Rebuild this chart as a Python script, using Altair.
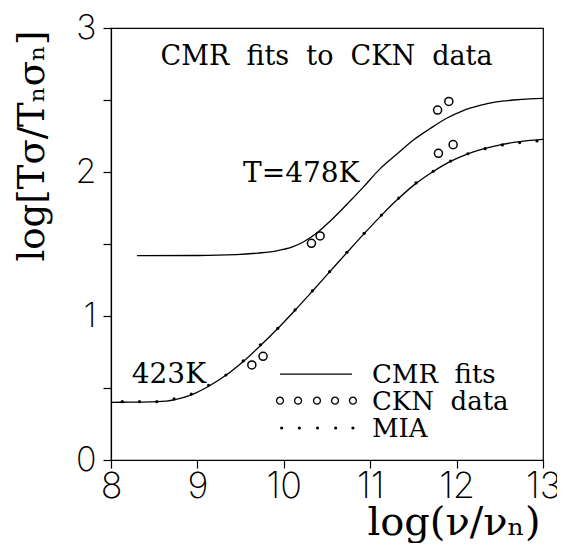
import altair as alt
import pandas as pd

# ---- data ----
# MIA points (T = 423K)
mia_x = [8.13, 8.33, 8.53, 8.73, 8.93, 9.13, 9.33, 9.53, 9.73, 9.93, 10.13, 10.33,
         10.53, 10.73, 10.93, 11.13, 11.33, 11.53, 11.73, 11.93, 12.13, 12.33, 12.53,
         12.73, 12.93]
mia_y = [0.405, 0.405, 0.405, 0.424, 0.458, 0.519, 0.590, 0.688, 0.800, 0.914, 1.042,
         1.174, 1.308, 1.442, 1.574, 1.701, 1.819, 1.924, 2.005, 2.076, 2.127, 2.162,
         2.188, 2.204, 2.215]

# CMR fit, T = 423K
fit423_x = [8.0, 8.13, 8.33, 8.53, 8.73, 8.93, 9.13, 9.33, 9.53, 9.73, 9.93, 10.13,
            10.33, 10.53, 10.73, 10.93, 11.13, 11.33, 11.53, 11.73, 11.93, 12.13, 12.33,
            12.53, 12.73, 12.93, 13.0]
fit423_y = [0.400, 0.401, 0.402, 0.405, 0.418, 0.452, 0.512, 0.588, 0.684, 0.795, 0.913,
            1.040, 1.172, 1.306, 1.440, 1.572, 1.699, 1.817, 1.921, 2.004, 2.074, 2.126,
            2.164, 2.192, 2.211, 2.223, 2.226]

# CMR fit, T = 478K
fit478_x = [8.30, 9.00, 9.45, 9.70, 9.92, 10.10, 10.23, 10.40, 10.53, 10.77, 10.92,
            11.11, 11.31, 11.50, 11.69, 11.885, 12.07, 12.27, 12.46, 12.66, 12.85, 13.00]
fit478_y = [1.419, 1.420, 1.426, 1.437, 1.453, 1.480, 1.516, 1.585, 1.655, 1.800, 1.895,
            2.020, 2.125, 2.222, 2.300, 2.373, 2.425, 2.462, 2.487, 2.500, 2.508, 2.511]

# CKN data (open circles)
ckn478_x = [10.32, 10.42, 11.78, 11.91]
ckn478_y = [1.505, 1.556, 2.43, 2.49]
ckn423_x = [9.63, 9.76, 11.79, 11.96]
ckn423_y = [0.66, 0.72, 2.13, 2.19]

# legend entries
legend_labels = ["CMR\u00a0 fits", "CKN\u00a0 data", "MIA"]

x_ticks = [8, 9, 10, 11, 12, 13]
y_ticks = [0, 0.5, 1, 1.5, 2, 2.5, 3]

SERIF = "DejaVu Serif"
SANS = "Inter"

fits = pd.concat([
    pd.DataFrame({"x": fit423_x, "y": fit423_y, "s": "423K"}),
    pd.DataFrame({"x": fit478_x, "y": fit478_y, "s": "478K"}),
])
ckn = pd.DataFrame({"x": ckn478_x + ckn423_x, "y": ckn478_y + ckn423_y})
mia = pd.DataFrame({"x": mia_x, "y": mia_y})

xs = alt.Scale(domain=[8, 13], nice=False, zero=False)
ys = alt.Scale(domain=[0, 3], nice=False, zero=False)

xax = alt.Axis(values=x_ticks, format="d", title="log(ν/νₙ)", grid=False,
               labelOverlap=False, labelFlush=False,
               tickSize=8, labelPadding=1, labelFontSize=36, labelFont=SANS,
               labelFontWeight=200, titleFont=SERIF, titleFontSize=40,
               titleFontWeight="normal", titleAnchor="end", titleAlign="right",
               titleBaseline="alphabetic", titleX=429, titleY=74)
yax = alt.Axis(values=y_ticks, title="log[Tσ/Tₙσₙ]", grid=False,
               labelOverlap=False, labelFlush=False,
               tickSize=8, labelPadding=7, labelFontSize=34, labelFont=SANS,
               labelFontWeight=200,
               labelExpr="datum.value % 1 == 0 ? format(datum.value, 'd') : ''",
               titleFont=SERIF, titleFontSize=37, titleFontWeight="normal",
               titleAnchor="end", titleAlign="right", titleAngle=270,
               titleBaseline="alphabetic", titleX=-68, titleY=2)

base = alt.Chart(fits).mark_line(color="black", strokeWidth=1.3, interpolate="monotone").encode(
    x=alt.X("x:Q", scale=xs, axis=xax),
    y=alt.Y("y:Q", scale=ys, axis=yax),
    detail="s:N",
)

circles = alt.Chart(ckn).mark_point(shape="circle", filled=False, color="black",
                                    size=65, strokeWidth=1.5, opacity=1).encode(
    x=alt.X("x:Q", scale=xs), y=alt.Y("y:Q", scale=ys))

dots = alt.Chart(mia).mark_circle(color="black", size=10, opacity=1).encode(
    x=alt.X("x:Q", scale=xs), y=alt.Y("y:Q", scale=ys))

# annotations (positions in data units)
ann = pd.DataFrame({
    "x": [10.495, 9.528, 8.24],
    "y": [2.743, 1.931, 0.535],
    "t": ["CMR\u00a0 fits\u00a0 to\u00a0 CKN\u00a0 data", "T=478K", "423K"],
})
ann_title = alt.Chart(ann.iloc[[0]]).mark_text(font=SERIF, fontSize=27, align="center",
                                               baseline="alphabetic", color="black").encode(
    x=alt.X("x:Q", scale=xs), y=alt.Y("y:Q", scale=ys), text="t:N")
ann_labels = alt.Chart(ann.iloc[1:]).mark_text(font=SERIF, fontSize=28, align="left",
                                               baseline="alphabetic", color="black").encode(
    x=alt.X("x:Q", scale=xs), y=alt.Y("y:Q", scale=ys), text="t:N")

# legend
leg_line = pd.DataFrame({"x": [9.956, 10.79], "y": [0.597, 0.597]})
leg_circ = pd.DataFrame({"x": [9.956, 10.165, 10.384, 10.593, 10.80], "y": [0.412] * 5})
leg_dot = pd.DataFrame({"x": [9.975, 10.18, 10.39, 10.60, 10.80], "y": [0.222] * 5})
leg_txt = pd.DataFrame({"x": [11.02] * 3, "y": [0.535, 0.347, 0.160], "t": legend_labels})

l1 = alt.Chart(leg_line).mark_line(color="black", strokeWidth=1.3).encode(
    x=alt.X("x:Q", scale=xs), y=alt.Y("y:Q", scale=ys))
l2 = alt.Chart(leg_circ).mark_point(shape="circle", filled=False, color="black",
                                    size=48, strokeWidth=1.3, opacity=1).encode(
    x=alt.X("x:Q", scale=xs), y=alt.Y("y:Q", scale=ys))
l3 = alt.Chart(leg_dot).mark_circle(color="black", size=10, opacity=1).encode(
    x=alt.X("x:Q", scale=xs), y=alt.Y("y:Q", scale=ys))
l4 = alt.Chart(leg_txt).mark_text(font=SERIF, fontSize=26, align="left",
                                  baseline="alphabetic", color="black").encode(
    x=alt.X("x:Q", scale=xs), y=alt.Y("y:Q", scale=ys), text="t:N")

chart = alt.layer(base, circles, dots, ann_title, ann_labels, l1, l2, l3, l4).properties(
    width=432, height=432,
    autosize=alt.AutoSizeParams(type="none"),
    padding={"left": 103, "top": 20, "right": 14, "bottom": 83},
    background="white",
).configure_view(stroke="black", strokeWidth=1.2).configure_axis(
    domainColor="black", tickColor="black", labelColor="black", titleColor="black",
    domainWidth=1.2, tickWidth=1.2)

chart.save("out.html", embed_options={"renderer": "svg", "actions": False})
